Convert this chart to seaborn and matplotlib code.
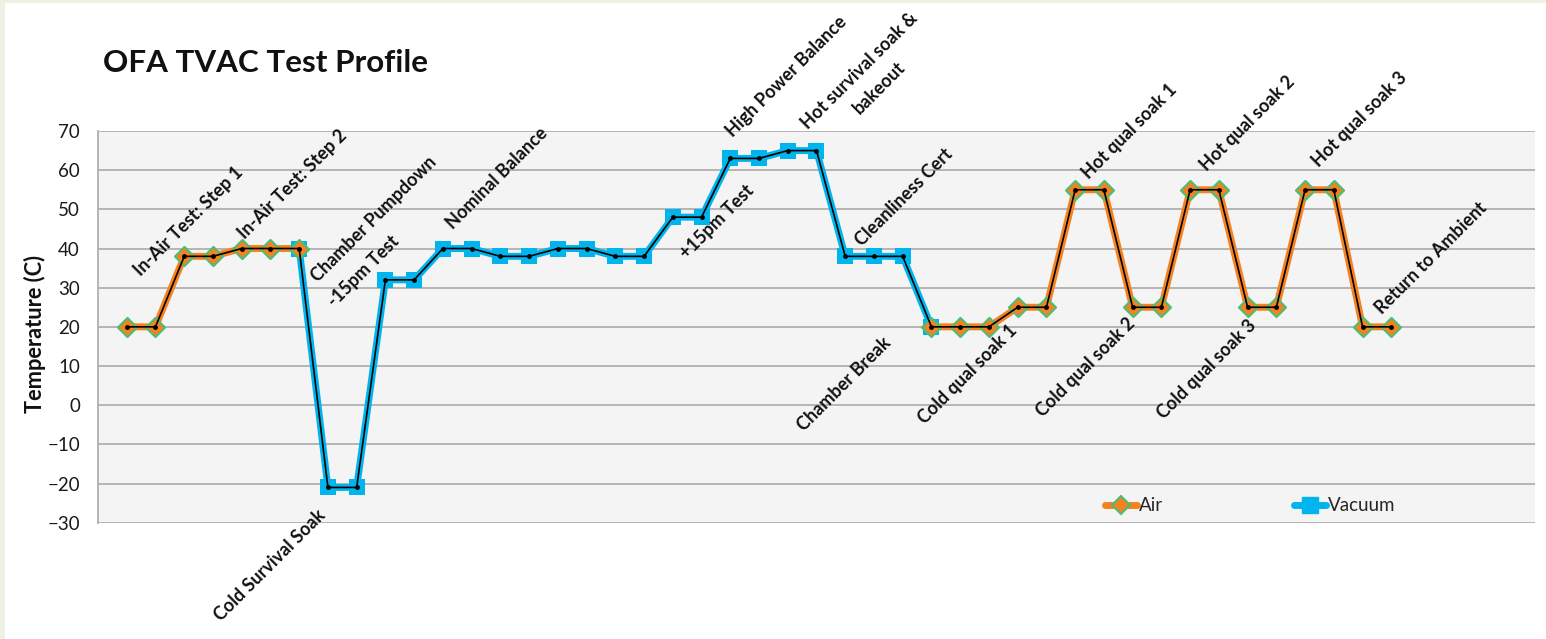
import numpy as np
import pandas as pd
import seaborn as sns
import matplotlib.pyplot as plt
from matplotlib.lines import Line2D
from matplotlib.patches import Rectangle

# Test profile steps and temperatures (C)
steps = list(range(1, 46))
air_temp = [20, 20, 38, 38, 40, 40, 40] + [None] * 21 + \
    [20, 20, 20, 25, 25, 55, 55, 25, 25, 55, 55, 25, 25, 55, 55, 20, 20]
vac_temp = [None] * 6 + \
    [40, -21, -21, 32, 32, 40, 40, 38, 38, 40, 40, 38, 38, 48, 48, 63, 63, 65, 65, 38, 38, 38, 20] + \
    [None] * 16

# Phase annotations
phase_labels = ["In-Air Test: Step 1", "In-Air Test: Step 2", "Chamber Pumpdown",
                "-15pm Test", "Cold Survival Soak", "Nominal Balance", "+15pm Test",
                "High Power Balance", "Hot survival soak &", "bakeout", "Cleanliness Cert",
                "Chamber Break", "Cold qual soak 1", "Cold qual soak 2", "Cold qual soak 3",
                "Hot qual soak 1", "Hot qual soak 2", "Hot qual soak 3", "Return to Ambient"]
label_pos = [(1.5, 32.7), (5.1, 42.2), (7.65, 31.2), (8.25, 24.8), (4.27, -55.4),
             (12.34, 44.7), (20.49, 37.1), (22.09, 68.2), (24.7, 70.3), (26.51, 74.1),
             (26.57, 40.4), (24.57, -6.8), (28.77, -5.1), (32.87, -3.3), (37.07, -3.8),
             (34.47, 57.5), (38.57, 59.5), (42.47, 60.6), (44.67, 23.0)]

AIR = "#F58220"
VAC = "#00B4EE"
GREEN = "#4DBD74"

sns.set_style("white")
plt.rcParams["font.family"] = ["Lato", "DejaVu Sans"]

df = pd.DataFrame({"step": steps, "Air": air_temp, "Vacuum": vac_temp})
long = df.melt("step", var_name="phase", value_name="temp").dropna()
long["temp"] = long["temp"].astype(float)
long["seg"] = (long.groupby("phase")["step"].diff() != 1).cumsum()
trace = df["Air"].astype(float).combine_first(df["Vacuum"].astype(float))

fig = plt.figure(figsize=(15.46, 6.39), dpi=100, facecolor="#EEF1E4")
fig.add_artist(Rectangle((5 / 1546, 0), 1 - 5 / 1546, 1 - 3 / 639,
                         transform=fig.transFigure, facecolor="white",
                         edgecolor="none", zorder=-10))
ax = fig.add_axes([98 / 1546, 1 - 522.7 / 639, 1437 / 1546, 391.7 / 639])
ax.set_facecolor("#F4F4F4")

# thick coloured phase lines
sns.lineplot(data=long, x="step", y="temp", hue="phase", units="seg", estimator=None,
             palette={"Air": AIR, "Vacuum": VAC}, lw=5, sort=False, legend=False,
             ax=ax, zorder=3)
vac = long[long["phase"] == "Vacuum"]
air = long[long["phase"] == "Air"]
sns.scatterplot(data=vac, x="step", y="temp", marker="s", s=145, color=VAC,
                edgecolor=VAC, linewidth=0, legend=False, ax=ax, zorder=4)
sns.scatterplot(data=air, x="step", y="temp", marker="D", s=95, color=AIR,
                edgecolor=GREEN, linewidth=1.5, legend=False, ax=ax, zorder=5)
# thin black trace
sns.lineplot(x=steps, y=trace, color="black", lw=1.2, marker="o", markersize=3.5,
             markeredgewidth=0, ax=ax, zorder=6)

ax.set_xlim(0, 50)
ax.set_ylim(-30, 70)
ax.set_yticks(range(-30, 71, 10))
ax.set_xticks([])
ax.grid(axis="y", color="#B0B0B0", lw=1.3)
ax.set_axisbelow(True)
for side in ["top", "right", "bottom"]:
    ax.spines[side].set_visible(False)
ax.spines["left"].set_color("#B0B0B0")
ax.spines["left"].set_linewidth(1.3)
ax.tick_params(axis="y", length=5, width=1.3, color="#B0B0B0", pad=8,
               labelsize=13.5, labelcolor="#1a1a1a")
ax.set_xlabel("")
ax.set_ylabel("")

for text, (x, y) in zip(phase_labels, label_pos):
    ax.text(x, y, text, rotation=45, rotation_mode="anchor", ha="left",
            va="baseline", fontsize=13, fontweight="bold", color="#111111", zorder=7)

fig.text(103 / 1546, 1 - 72 / 639, "OFA TVAC Test Profile", fontsize=22.6,
         fontweight="bold", va="baseline", ha="left", color="#111111")
fig.text(35 / 1546, 1 - 334 / 639, "Temperature (C)", rotation=90, fontsize=15.7,
         fontweight="bold", va="center", ha="center", color="#111111")

handles = [Line2D([], [], color=AIR, lw=5, marker="D", markersize=9,
                  markerfacecolor=AIR, markeredgecolor=GREEN, markeredgewidth=1.5),
           Line2D([], [], color=VAC, lw=5, marker="s", markersize=11,
                  markerfacecolor=VAC, markeredgecolor=VAC)]
ax.legend(handles, ["Air", "Vacuum"], ncol=2, frameon=False, fontsize=13.5,
          loc="center", bbox_to_anchor=(0.802, 0.043), handlelength=1.7,
          handletextpad=0.1, columnspacing=7)

fig.savefig("out.png", dpi=100, facecolor=fig.get_facecolor())
